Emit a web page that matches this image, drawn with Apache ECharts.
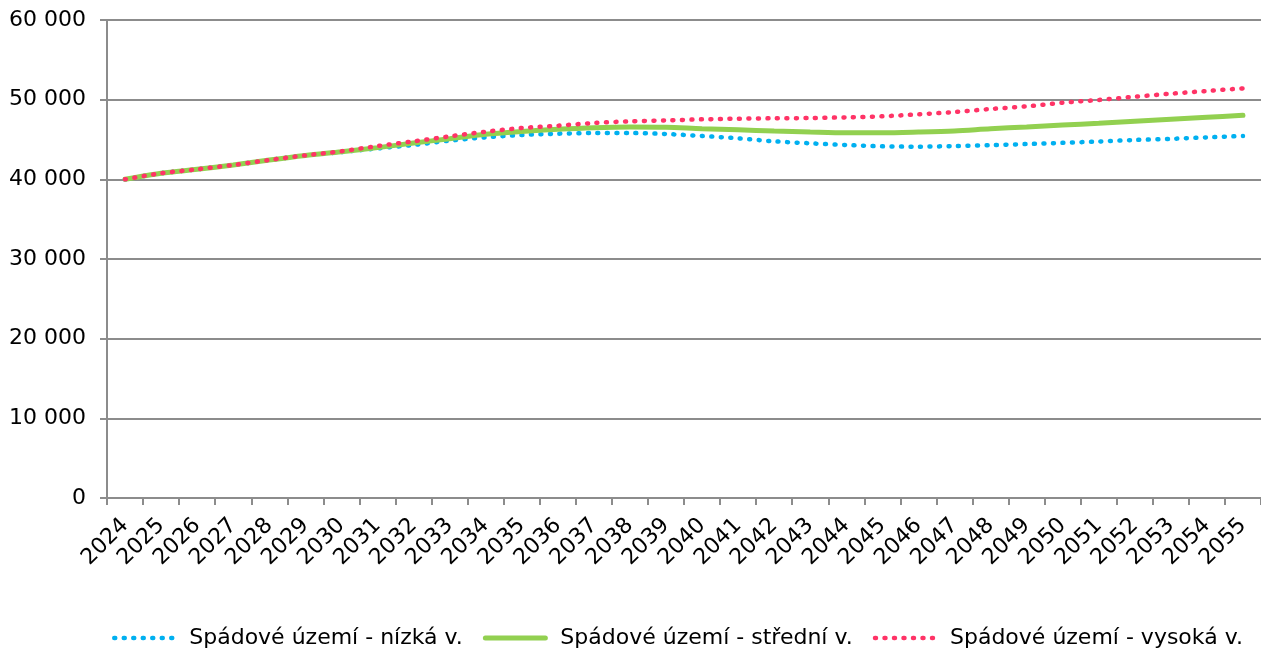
<!DOCTYPE html>
<html>
<head>
<meta charset="utf-8">
<script src="https://cdn.jsdelivr.net/npm/echarts@6/dist/echarts.min.js"></script>
<style>html,body{margin:0;padding:0;background:#fff}#c{width:1261px;height:650px}</style>
</head>
<body>
<div id="c"></div>
<script>
const years = ["2024","2025","2026","2027","2028","2029","2030","2031","2032","2033","2034","2035","2036","2037","2038","2039","2040","2041","2042","2043","2044","2045","2046","2047","2048","2049","2050","2051","2052","2053","2054","2055"];
const seriesNames = ["Spádové území - nízká v.", "Spádové území - střední v.", "Spádové území - vysoká v."];
const low  = [40000,40760,41260,41800,42430,43000,43420,43880,44310,44850,45270,45560,45730,45810,45810,45690,45440,45150,44770,44520,44310,44140,44100,44180,44290,44430,44580,44750,44940,45080,45270,45440];
const mid  = [40000,40760,41260,41800,42430,43000,43470,43980,44550,45100,45650,46000,46280,46480,46570,46530,46350,46230,46060,45940,45850,45850,45940,46080,46350,46570,46820,47030,47280,47530,47780,48030];
const high = [40000,40760,41260,41800,42430,43010,43520,44180,44770,45390,45980,46440,46730,47070,47280,47400,47530,47610,47660,47700,47780,47910,48160,48450,48830,49160,49620,49960,50370,50750,51090,51420];
const yTicks = {min: 0, max: 60000, interval: 10000};

const font = "DejaVu Sans";
const colors = ['#00b0f0', '#92d050', '#ff3366'];
const dotted = {width: 4.5, type: [1, 8.5], cap: 'round'};
const chart = echarts.init(document.getElementById('c'), null, {renderer: 'canvas'});
chart.setOption({
  animation: false,
  backgroundColor: '#ffffff',
  grid: {left: 107, right: 0, top: 20, bottom: 152, containLabel: false},
  legend: {
    top: 627, left: 112, padding: 0,
    itemWidth: 60, itemHeight: 12, itemGap: 20,
    textStyle: {fontFamily: font, fontSize: 22, color: '#000', padding: [0, 0, 0, 10]},
    itemStyle: {opacity: 0},
    data: [
      {name: seriesNames[0], lineStyle: Object.assign({color: colors[0]}, dotted)},
      {name: seriesNames[1], lineStyle: {color: colors[1], width: 5, type: 'solid'}},
      {name: seriesNames[2], lineStyle: Object.assign({color: colors[2]}, dotted)}
    ]
  },
  xAxis: {
    type: 'category', data: years, boundaryGap: true,
    axisLine: {lineStyle: {color: '#8c8c8c', width: 2}},
    axisTick: {show: true, interval: 0, length: 7, lineStyle: {color: '#8c8c8c', width: 2}},
    axisLabel: {interval: 0, rotate: 45, margin: 24, fontFamily: font, fontSize: 22, color: '#000'}
  },
  yAxis: {
    type: 'value', min: yTicks.min, max: yTicks.max, interval: yTicks.interval,
    axisLine: {show: true, lineStyle: {color: '#8c8c8c', width: 2}},
    axisTick: {show: true, length: 7, lineStyle: {color: '#8c8c8c', width: 2}},
    splitLine: {show: true, lineStyle: {color: '#8c8c8c', width: 2}},
    axisLabel: {margin: 21, fontFamily: font, fontSize: 22, color: '#000',
      formatter: v => String(v).replace(/\B(?=(\d{3})+(?!\d))/g, ' ')}
  },
  series: [
    {name: seriesNames[0], type: 'line', data: low, smooth: 0.3, symbol: 'none', showSymbol: false, z: 2,
     itemStyle: {color: colors[0]},
     lineStyle: Object.assign({color: colors[0]}, dotted)},
    {name: seriesNames[1], type: 'line', data: mid, smooth: 0.3, symbol: 'none', showSymbol: false, z: 3,
     itemStyle: {color: colors[1]},
     lineStyle: {color: colors[1], width: 5, type: 'solid', cap: 'round'}},
    {name: seriesNames[2], type: 'line', data: high, smooth: 0.3, symbol: 'none', showSymbol: false, z: 4,
     itemStyle: {color: colors[2]},
     lineStyle: Object.assign({color: colors[2]}, dotted)}
  ]
});
</script>
</body>
</html>
